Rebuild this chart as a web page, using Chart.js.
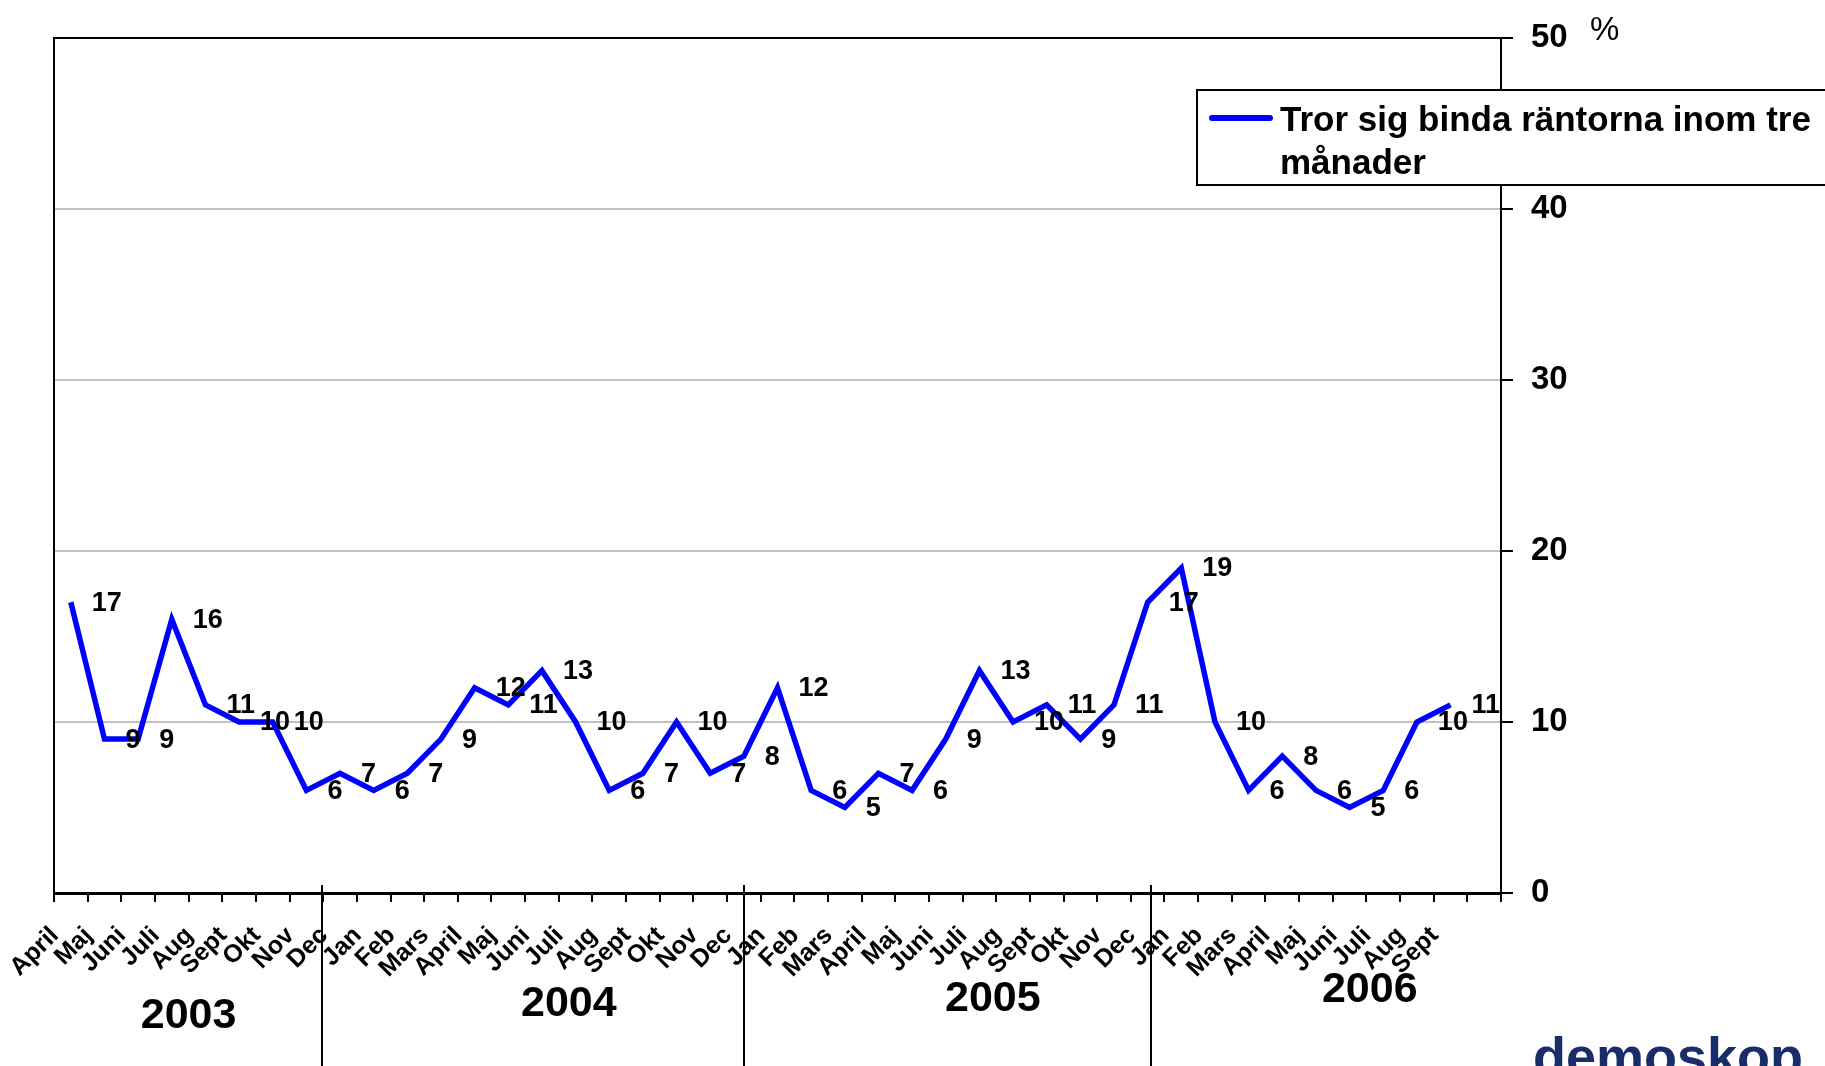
<!DOCTYPE html>
<html>
<head>
<meta charset="utf-8">
<title>Tror sig binda räntorna inom tre månader</title>
<script src="https://cdn.jsdelivr.net/npm/chart.js@4.4.0/dist/chart.umd.min.js"></script>
<style>
  html, body { margin: 0; padding: 0; background: #fff; }
  canvas { display: block; }
</style>
</head>
<body>
<canvas id="rantaChart" width="1825" height="1066"></canvas>
<script>
// Månader per år (mätningarna börjar april 2003)
const months2003 = ['April', 'Maj', 'Juni', 'Juli', 'Aug', 'Sept', 'Okt', 'Nov', 'Dec'];
const months2004 = ['Jan', 'Feb', 'Mars', 'April', 'Maj', 'Juni', 'Juli', 'Aug', 'Sept', 'Okt', 'Nov', 'Dec'];
const months2005 = ['Jan', 'Feb', 'Mars', 'April', 'Maj', 'Juni', 'Juli', 'Aug', 'Sept', 'Okt', 'Nov', 'Dec'];
const months2006 = ['Jan', 'Feb', 'Mars', 'April', 'Maj', 'Juni', 'Juli', 'Aug', 'Sept'];
const years = ['2003', '2004', '2005', '2006'];

// Andel i procent som tror sig binda räntorna inom tre månader
const values2003 = [17, 9, 9, 16, 11, 10, 10, 6, 7];
const values2004 = [6, 7, 9, 12, 11, 13, 10, 6, 7, 10, 7, 8];
const values2005 = [12, 6, 5, 7, 6, 9, 13, 10, 11, 9, 11, 17];
const values2006 = [19, 10, 6, 8, 6, 5, 6, 10, 11];

const yTicks = [0, 10, 20, 30, 40, 50];
const seriesLabel = 'Tror sig binda räntorna inom tre månader';

// en tom kategori sist, som i originalet
const labels = [...months2003, ...months2004, ...months2005, ...months2006, ''];
const values = [...values2003, ...values2004, ...values2005, ...values2006];

const FONT = '"Liberation Sans", Arial, sans-serif';
Chart.defaults.font.family = FONT;
Chart.defaults.color = '#000';

// siffror till höger om varje punkt
const valueLabels = {
    id: 'valueLabels',
    afterDatasetsDraw(chart) {
        const ctx = chart.ctx;
        const meta = chart.getDatasetMeta(0);
        const data = chart.data.datasets[0].data;
        ctx.save();
        ctx.font = 'bold 27px ' + FONT;
        ctx.fillStyle = '#000';
        ctx.textAlign = 'left';
        ctx.textBaseline = 'middle';
        meta.data.forEach((pt, i) => {
            if (data[i] == null) return;
            ctx.fillText(String(data[i]), pt.x + 21, pt.y + 1);
        });
        ctx.restore();
    }
};

// årtal och lodräta streck mellan åren
const yearMarks = {
    id: 'yearMarks',
    afterDraw(chart, args, opts) {
        const ctx = chart.ctx;
        const x = chart.scales.x;
        ctx.save();
        ctx.strokeStyle = '#000';
        ctx.lineWidth = 2;
        opts.dividers.forEach(v => {
            const px = Math.round(x.getPixelForValue(v));
            ctx.beginPath();
            ctx.moveTo(px, x.top - 8);
            ctx.lineTo(px, chart.height);
            ctx.stroke();
        });
        ctx.font = 'bold 43px ' + FONT;
        ctx.fillStyle = '#000';
        ctx.textAlign = 'center';
        ctx.textBaseline = 'middle';
        years.forEach((yr, i) => {
            ctx.fillText(yr, x.getPixelForValue(opts.yearAt[i]), opts.yearY[i]);
        });
        ctx.restore();
    }
};

// förklaringsruta, procenttecken och logotyp
const boxLegend = {
    id: 'boxLegend',
    afterDraw(chart) {
        const ctx = chart.ctx;
        const ds = chart.data.datasets[0];
        const left = 1197, top = 90, bottom = 185;
        ctx.save();
        ctx.fillStyle = '#fff';
        ctx.fillRect(left, top, chart.width - left + 10, bottom - top);
        ctx.strokeStyle = '#000';
        ctx.lineWidth = 2;
        ctx.strokeRect(left, top, chart.width - left + 10, bottom - top);

        ctx.strokeStyle = ds.borderColor;
        ctx.lineWidth = 6;
        ctx.lineCap = 'round';
        ctx.beginPath();
        ctx.moveTo(1212, 118);
        ctx.lineTo(1270, 118);
        ctx.stroke();

        ctx.font = 'bold 35px ' + FONT;
        ctx.fillStyle = '#000';
        ctx.textAlign = 'left';
        ctx.textBaseline = 'alphabetic';
        const maxW = chart.width - 1280;
        const lines = [];
        let cur = '';
        ds.label.split(' ').forEach(w => {
            const test = cur ? cur + ' ' + w : w;
            if (ctx.measureText(test).width > maxW && cur) {
                lines.push(cur);
                cur = w;
            } else {
                cur = test;
            }
        });
        lines.push(cur);
        lines.forEach((ln, i) => ctx.fillText(ln, 1280, 131 + i * 43));

        ctx.font = '33px ' + FONT;
        ctx.textBaseline = 'middle';
        ctx.fillText('%', 1590, 31);

        ctx.font = 'bold 54px ' + FONT;
        ctx.fillStyle = '#1a2d6b';
        ctx.textBaseline = 'alphabetic';
        ctx.fillText('demoskop', 1533, 1075);
        ctx.restore();
    }
};

const ctx = document.getElementById('rantaChart').getContext('2d');
const rantaChart = new Chart(ctx, {
    type: 'line',
    data: {
        labels: labels,
        datasets: [{
            label: seriesLabel,
            data: values,
            borderColor: '#0000ff',
            borderWidth: 5.5,
            pointRadius: 0,
            pointHoverRadius: 0,
            tension: 0,
            fill: false
        }]
    },
    options: {
        responsive: false,
        animation: false,
        devicePixelRatio: 1,
        layout: { padding: { top: 35, left: 0, right: 0, bottom: 0 } },
        plugins: {
            legend: { display: false },
            tooltip: { enabled: false },
            yearMarks: {
                dividers: [7.45, 20, 32.1],
                yearAt: [3.5, 14.8, 27.4, 38.6],
                yearY: [1016, 1004, 999, 990]
            }
        },
        scales: {
            x: {
                type: 'category',
                offset: true,
                grid: {
                    offset: true,
                    drawOnChartArea: false,
                    drawTicks: true,
                    tickLength: 9,
                    color: '#000',
                    lineWidth: 2
                },
                border: { display: true, color: '#000', width: 3 },
                ticks: {
                    autoSkip: false,
                    maxRotation: 45,
                    minRotation: 45,
                    labelOffset: -16,
                    padding: 19,
                    color: '#000',
                    font: { size: 25, weight: 'bold' }
                },
                afterFit(scale) { scale.height = 173; }
            },
            y: {
                position: 'right',
                min: yTicks[0],
                max: yTicks[yTicks.length - 1],
                ticks: {
                    stepSize: yTicks[1] - yTicks[0],
                    padding: 18,
                    color: '#000',
                    font: { size: 33, weight: 'bold' }
                },
                grid: {
                    color: c => c.tick.value === yTicks[yTicks.length - 1] ? '#000'
                        : (c.tick.value === yTicks[0] ? 'rgba(0,0,0,0)' : '#c0c0c0'),
                    lineWidth: 2,
                    tickLength: 12,
                    tickColor: '#000'
                },
                border: { display: true, color: '#000', width: 2 },
                afterFit(scale) { scale.width = 324; }
            },
            yLeft: {
                position: 'left',
                min: yTicks[0],
                max: yTicks[yTicks.length - 1],
                ticks: { display: false },
                grid: { drawOnChartArea: false, drawTicks: false },
                border: { display: true, color: '#000', width: 2 },
                afterFit(scale) { scale.width = 54; }
            }
        }
    },
    plugins: [valueLabels, yearMarks, boxLegend]
});
</script>
</body>
</html>
